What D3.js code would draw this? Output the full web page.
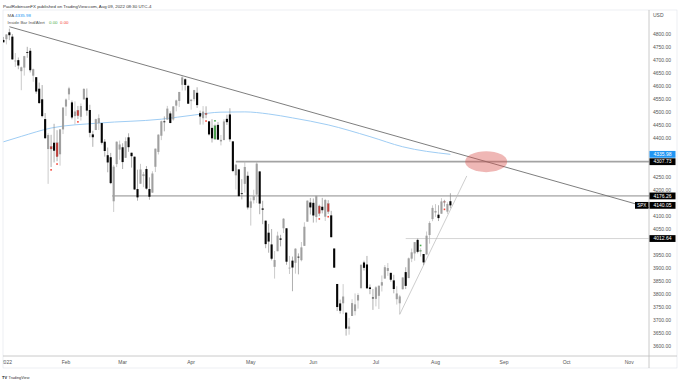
<!DOCTYPE html>
<html lang="en">
<head>
<meta charset="UTF-8">
<title>SPX daily 2022</title>
<script src="https://d3js.org/d3.v7.min.js"></script>
<style>
  body { margin: 0; background: #fff; }
  svg { display: block; font-family: "Liberation Sans", Arial, sans-serif; }
</style>
</head>
<body>
<div id="chart"></div>
<script>
// daily bars: date, open, high, low, close (first bar is index -1)
const bars = [
  ["2021-12-31",4775.21,4786.83,4765.75,4766.18],
  ["2022-01-03",4778.14,4796.64,4758.17,4796.56],
  ["2022-01-04",4804.51,4818.62,4774.27,4793.54],
  ["2022-01-05",4787.99,4797.70,4699.44,4700.58],
  ["2022-01-06",4693.39,4725.01,4671.26,4696.05],
  ["2022-01-07",4697.66,4707.95,4662.74,4677.03],
  ["2022-01-10",4655.34,4673.02,4582.24,4670.29],
  ["2022-01-11",4669.14,4714.13,4638.27,4713.07],
  ["2022-01-12",4728.59,4748.83,4706.71,4726.35],
  ["2022-01-13",4733.56,4744.13,4650.29,4659.03],
  ["2022-01-14",4637.99,4665.13,4614.75,4662.85],
  ["2022-01-18",4632.24,4632.24,4568.70,4577.11],
  ["2022-01-19",4588.03,4611.55,4530.20,4532.76],
  ["2022-01-20",4547.35,4602.11,4477.95,4482.73],
  ["2022-01-21",4471.38,4494.52,4395.34,4397.94],
  ["2022-01-24",4356.32,4417.35,4222.62,4410.13],
  ["2022-01-25",4366.64,4411.01,4287.11,4356.45],
  ["2022-01-26",4380.58,4453.23,4304.80,4349.93],
  ["2022-01-27",4380.58,4428.74,4309.50,4326.51],
  ["2022-01-28",4336.19,4432.72,4292.46,4431.85],
  ["2022-01-31",4431.79,4516.89,4414.02,4515.55],
  ["2022-02-01",4519.57,4550.49,4483.53,4546.54],
  ["2022-02-02",4566.39,4595.31,4544.32,4589.38],
  ["2022-02-03",4535.41,4542.88,4470.39,4477.44],
  ["2022-02-04",4482.79,4539.66,4451.50,4500.53],
  ["2022-02-07",4505.75,4521.86,4471.47,4483.87],
  ["2022-02-08",4480.02,4531.32,4465.40,4521.54],
  ["2022-02-09",4547.00,4590.03,4547.00,4587.18],
  ["2022-02-10",4553.24,4588.92,4484.31,4504.08],
  ["2022-02-11",4506.27,4526.33,4401.41,4418.64],
  ["2022-02-14",4412.61,4426.22,4364.84,4401.67],
  ["2022-02-15",4429.28,4472.77,4429.28,4471.07],
  ["2022-02-16",4455.75,4489.55,4429.68,4475.01],
  ["2022-02-17",4456.06,4456.06,4373.81,4380.26],
  ["2022-02-18",4384.57,4394.60,4327.22,4348.87],
  ["2022-02-22",4332.74,4362.12,4267.11,4304.76],
  ["2022-02-23",4324.93,4341.51,4221.51,4225.50],
  ["2022-02-24",4155.77,4294.73,4114.65,4288.70],
  ["2022-02-25",4298.38,4385.34,4286.83,4384.65],
  ["2022-02-28",4354.17,4388.84,4315.12,4373.94],
  ["2022-03-01",4363.14,4378.45,4279.54,4306.26],
  ["2022-03-02",4322.56,4401.48,4322.56,4386.54],
  ["2022-03-03",4401.31,4416.78,4345.56,4363.49],
  ["2022-03-04",4342.12,4342.12,4284.98,4328.87],
  ["2022-03-07",4327.01,4327.01,4199.85,4201.09],
  ["2022-03-08",4202.66,4276.94,4157.87,4170.70],
  ["2022-03-09",4223.10,4299.40,4223.10,4277.88],
  ["2022-03-10",4252.55,4268.28,4209.80,4259.52],
  ["2022-03-11",4279.50,4291.01,4200.49,4204.31],
  ["2022-03-14",4202.75,4247.57,4161.72,4173.11],
  ["2022-03-15",4188.82,4271.05,4187.90,4262.45],
  ["2022-03-16",4288.14,4357.86,4267.92,4357.86],
  ["2022-03-17",4345.11,4412.67,4335.65,4411.67],
  ["2022-03-18",4407.34,4465.40,4390.57,4463.12],
  ["2022-03-21",4462.40,4481.75,4424.30,4461.18],
  ["2022-03-22",4469.10,4522.00,4469.10,4511.61],
  ["2022-03-23",4493.10,4501.07,4455.81,4456.24],
  ["2022-03-24",4469.98,4520.58,4465.17,4520.16],
  ["2022-03-25",4522.91,4546.03,4501.07,4543.06],
  ["2022-03-28",4541.09,4575.65,4517.69,4575.52],
  ["2022-03-29",4602.86,4637.30,4581.18,4631.60],
  ["2022-03-30",4624.20,4627.77,4581.32,4602.45],
  ["2022-03-31",4599.02,4603.07,4530.41,4530.41],
  ["2022-04-01",4540.32,4548.70,4507.57,4545.86],
  ["2022-04-04",4547.97,4583.50,4539.21,4582.64],
  ["2022-04-05",4572.45,4593.45,4514.17,4525.12],
  ["2022-04-06",4494.17,4503.94,4450.04,4481.15],
  ["2022-04-07",4474.65,4521.16,4450.30,4500.21],
  ["2022-04-08",4494.15,4520.41,4474.60,4488.28],
  ["2022-04-11",4462.64,4464.35,4408.38,4412.53],
  ["2022-04-12",4437.59,4471.00,4381.34,4397.45],
  ["2022-04-13",4394.30,4453.92,4392.70,4446.59],
  ["2022-04-14",4449.12,4460.46,4390.77,4392.59],
  ["2022-04-18",4385.63,4410.31,4370.30,4391.69],
  ["2022-04-19",4390.63,4471.03,4390.63,4462.21],
  ["2022-04-20",4472.26,4488.29,4448.76,4459.45],
  ["2022-04-21",4489.17,4512.94,4384.47,4393.66],
  ["2022-04-22",4385.83,4385.83,4267.62,4271.78],
  ["2022-04-25",4255.34,4299.02,4200.82,4296.12],
  ["2022-04-26",4278.14,4278.14,4175.04,4175.20],
  ["2022-04-27",4186.52,4240.71,4162.90,4183.96],
  ["2022-04-28",4222.58,4308.45,4188.63,4287.50],
  ["2022-04-29",4253.75,4269.68,4124.28,4131.93],
  ["2022-05-02",4130.61,4169.81,4062.51,4155.38],
  ["2022-05-03",4159.78,4200.10,4147.08,4175.48],
  ["2022-05-04",4181.18,4307.66,4148.91,4300.17],
  ["2022-05-05",4270.43,4270.43,4106.01,4146.87],
  ["2022-05-06",4128.17,4157.69,4067.91,4123.34],
  ["2022-05-09",4081.27,4081.27,3975.48,3991.24],
  ["2022-05-10",4035.18,4068.82,3958.17,4001.05],
  ["2022-05-11",3990.08,4049.09,3928.82,3935.18],
  ["2022-05-12",3903.95,3964.80,3858.87,3930.08],
  ["2022-05-13",3963.90,4038.88,3963.90,4023.89],
  ["2022-05-16",4013.02,4026.97,3982.68,4008.01],
  ["2022-05-17",4052.00,4090.72,4033.93,4088.85],
  ["2022-05-18",4051.98,4051.98,3911.91,3923.68],
  ["2022-05-19",3899.00,3945.96,3876.58,3900.79],
  ["2022-05-20",3927.76,3943.42,3810.32,3901.36],
  ["2022-05-23",3919.42,3975.45,3877.97,3973.75],
  ["2022-05-24",3942.94,3955.68,3875.13,3941.48],
  ["2022-05-25",3929.59,3999.33,3925.03,3978.73],
  ["2022-05-26",3984.60,4075.14,3984.60,4057.84],
  ["2022-05-27",4077.43,4158.49,4077.43,4158.24],
  ["2022-05-31",4151.09,4168.34,4104.88,4132.15],
  ["2022-06-01",4149.78,4166.54,4073.85,4101.23],
  ["2022-06-02",4095.41,4177.51,4074.37,4176.82],
  ["2022-06-03",4137.57,4142.67,4098.67,4108.54],
  ["2022-06-06",4134.72,4168.78,4109.18,4121.43],
  ["2022-06-07",4096.47,4164.86,4080.19,4160.68],
  ["2022-06-08",4147.12,4160.14,4107.20,4115.77],
  ["2022-06-09",4101.65,4119.10,4017.17,4017.82],
  ["2022-06-10",3974.39,3974.39,3900.16,3900.86],
  ["2022-06-13",3838.15,3838.15,3734.30,3749.63],
  ["2022-06-14",3763.52,3778.18,3724.56,3735.48],
  ["2022-06-15",3764.05,3837.56,3722.30,3789.99],
  ["2022-06-16",3728.18,3728.18,3639.77,3666.77],
  ["2022-06-17",3665.90,3707.71,3643.41,3674.84],
  ["2022-06-21",3715.31,3779.65,3715.31,3764.79],
  ["2022-06-22",3733.89,3801.79,3717.69,3759.89],
  ["2022-06-23",3774.71,3802.58,3743.52,3795.73],
  ["2022-06-24",3821.75,3913.65,3821.75,3911.74],
  ["2022-06-27",3920.76,3927.72,3889.66,3900.11],
  ["2022-06-28",3913.00,3945.86,3820.14,3821.55],
  ["2022-06-29",3825.09,3836.50,3799.02,3818.83],
  ["2022-06-30",3785.99,3818.99,3738.67,3785.38],
  ["2022-07-01",3781.00,3829.82,3752.10,3825.33],
  ["2022-07-05",3792.61,3832.19,3742.06,3831.39],
  ["2022-07-06",3831.98,3870.91,3809.37,3845.08],
  ["2022-07-07",3858.85,3910.63,3858.85,3902.62],
  ["2022-07-08",3888.26,3918.50,3869.34,3899.38],
  ["2022-07-11",3880.94,3880.94,3847.22,3854.43],
  ["2022-07-12",3851.95,3873.41,3802.36,3818.80],
  ["2022-07-13",3779.67,3829.44,3759.07,3801.78],
  ["2022-07-14",3763.99,3796.41,3721.56,3790.38],
  ["2022-07-15",3818.00,3863.62,3817.18,3863.16],
  ["2022-07-18",3883.79,3902.44,3818.63,3830.85],
  ["2022-07-19",3860.73,3939.81,3860.73,3936.69],
  ["2022-07-20",3935.32,3974.13,3922.03,3959.90],
  ["2022-07-21",3955.47,3999.29,3927.64,3998.95],
  ["2022-07-22",4007.51,4012.44,3955.77,3961.63],
  ["2022-07-25",3965.72,3975.30,3943.46,3966.84],
  ["2022-07-26",3953.22,3953.22,3910.74,3921.05],
  ["2022-07-27",3951.43,4039.56,3951.43,4023.61],
  ["2022-07-28",4026.13,4078.95,3992.97,4072.43],
  ["2022-07-29",4087.33,4140.15,4079.22,4130.29],
  ["2022-08-01",4112.38,4144.95,4096.02,4118.63],
  ["2022-08-02",4104.21,4140.47,4079.81,4091.19],
  ["2022-08-03",4107.96,4167.66,4107.96,4155.17],
  ["2022-08-04",4154.85,4161.29,4135.42,4151.94],
  ["2022-08-05",4115.87,4151.58,4107.31,4145.19],
  ["2022-08-08",4155.93,4186.62,4128.97,4140.05]
];

// moving average: [bar index, value]
const maPoints = [
  [-1,4384],[5,4405],[15,4437],[31,4456],[52,4471],[63,4487],[72,4498],
  [80,4499],[88,4491],[96,4476],[108,4449],[122,4404],[133,4365],[149,4335.98]
];

// inside bar indicator hits
const redInside = ["2022-01-25","2022-01-27","2022-02-07","2022-04-08","2022-06-03","2022-06-08","2022-08-04"];
const greenInside = ["2022-04-13","2022-07-25"];

// drawn levels: price and first bar index
const levelPrices = [4307.73, 4176.26, 4012.64];
const levelStarts = [77, 35.5, 134];
const levelKinds = ["thick", "dark", "light"];

// trend lines [bar index, price]
const downTrend = [[1, 4826], [216, 4130]];
const upTrend = [[132, 3721.56], [154.5, 4253]];
const zone = [161, 4308];

const priceTicks = d3.range(3600, 4801, 50);
const monthLabels = ["2022","Feb","Mar","Apr","May","Jun","Jul","Aug","Sep","Oct","Nov"];
const monthIdx = [0, 20, 39, 62, 82, 103, 124, 144, 167, 188, 209];

const W = 680, H = 380;
const plot = { left: 3, top: 10, right: 649, bottom: 356 };

const data = bars.map((b, i) => ({ date: b[0], i: i - 1, o: b[1], h: b[2], l: b[3], c: b[4] }));
const last = data[data.length - 1];

const x = d3.scaleLinear().domain([0, 209]).range([6.4, 629.2]);
const y = d3.scaleLinear().domain([3600, 4800]).range([346, 33.5]);

const svg = d3.select("#chart").append("svg").attr("width", W).attr("height", H);
svg.append("rect").attr("width", W).attr("height", H).attr("fill", "#fff");

// header
svg.append("text").attr("x", 3).attr("y", 7.5).attr("font-size", 4.4).attr("fill", "#333")
  .text("PaulRobinsonFX published on TradingView.com, Aug 09, 2022 08:30 UTC-4");

// frame
svg.append("rect").attr("x", plot.left).attr("y", plot.top)
  .attr("width", 677 - plot.left).attr("height", 368 - plot.top)
  .attr("fill", "none").attr("stroke", "#e0e3eb").attr("stroke-width", 0.6);
svg.append("line").attr("x1", plot.right).attr("x2", plot.right).attr("y1", plot.top).attr("y2", 368)
  .attr("stroke", "#bdbdbd").attr("stroke-width", 0.8);
svg.append("line").attr("x1", plot.left).attr("x2", 677).attr("y1", plot.bottom).attr("y2", plot.bottom)
  .attr("stroke", "#bdbdbd").attr("stroke-width", 0.8);

svg.append("clipPath").attr("id", "clip").append("rect")
  .attr("x", plot.left).attr("y", plot.top)
  .attr("width", plot.right - plot.left).attr("height", plot.bottom - plot.top);

const g = svg.append("g").attr("clip-path", "url(#clip)");

// moving average
g.append("path").datum(maPoints)
  .attr("d", d3.line().x(d => x(d[0])).y(d => y(d[1])).curve(d3.curveMonotoneX))
  .attr("fill", "none").attr("stroke", "#9fcdf4").attr("stroke-width", 1);

// horizontal levels
const levelStyle = {
  thick: { stroke: "#a3a3a3", width: 1.8 },
  dark: { stroke: "#6e6e6e", width: 0.8 },
  light: { stroke: "#c4c4c4", width: 0.7 }
};
levelPrices.forEach((p, k) => {
  const st = levelStyle[levelKinds[k]];
  g.append("line").attr("x1", x(levelStarts[k])).attr("x2", plot.right)
    .attr("y1", y(p)).attr("y2", y(p))
    .attr("stroke", st.stroke).attr("stroke-width", st.width);
});

// trend lines
g.append("line").attr("x1", x(downTrend[0][0])).attr("y1", y(downTrend[0][1]))
  .attr("x2", x(downTrend[1][0])).attr("y2", y(downTrend[1][1]))
  .attr("stroke", "#6f6f6f").attr("stroke-width", 0.9);
g.append("line").attr("x1", x(upTrend[0][0])).attr("y1", y(upTrend[0][1]))
  .attr("x2", x(upTrend[1][0])).attr("y2", y(upTrend[1][1]))
  .attr("stroke", "#b8b8b8").attr("stroke-width", 0.7);

// candles
const isRed = d => redInside.includes(d.date);
const isGreen = d => greenInside.includes(d.date);
const bodyColor = d => isRed(d) ? "#c23b36" : isGreen(d) ? "#43a047" : (d.c >= d.o ? "#a0a0a0" : "#050505");
const wickColor = d => d.c >= d.o ? "#b5b5b5" : "#8c8c8c";
const bw = 2.1;

g.selectAll("line.wick").data(data).join("line").attr("class", "wick")
  .attr("x1", d => x(d.i)).attr("x2", d => x(d.i))
  .attr("y1", d => y(d.h)).attr("y2", d => y(d.l))
  .attr("stroke", wickColor).attr("stroke-width", 0.7);

g.selectAll("rect.body").data(data).join("rect").attr("class", "body")
  .attr("x", d => x(d.i) - bw / 2)
  .attr("y", d => y(Math.max(d.o, d.c)))
  .attr("width", bw)
  .attr("height", d => Math.max(0.8, Math.abs(y(d.o) - y(d.c))))
  .attr("fill", bodyColor)
  .attr("stroke", d => (isRed(d) || isGreen(d)) ? "#9a9a9a" : "none")
  .attr("stroke-width", 0.3);

// indicator dots
g.selectAll("rect.rdot").data(data.filter(isRed)).join("rect").attr("class", "rdot")
  .attr("x", d => x(d.i) - 0.8).attr("y", d => y(d.l) + 2)
  .attr("width", 1.6).attr("height", 1.6).attr("fill", "#f44336");
g.selectAll("rect.gdot").data(data.filter(isGreen)).join("rect").attr("class", "gdot")
  .attr("x", d => x(d.i) - 0.8).attr("y", d => y(d.h) - 3.6)
  .attr("width", 1.6).attr("height", 1.6).attr("fill", "#4caf50");

// highlighted zone
g.append("ellipse").attr("cx", x(zone[0])).attr("cy", y(zone[1]))
  .attr("rx", 21).attr("ry", 10.5)
  .attr("fill", "#d9534f").attr("fill-opacity", 0.42);

// legend
const leg = svg.append("g").attr("font-size", 4.4);
leg.append("text").attr("x", 7.5).attr("y", 16.5).attr("fill", "#555").text("MA");
leg.append("text").attr("x", 15).attr("y", 16.5).attr("fill", "#2196f3").text(d3.format(".2f")(maPoints[maPoints.length - 1][1]));
leg.append("text").attr("x", 7.5).attr("y", 23.5).attr("fill", "#555").text("Inside Bar Ind/Alert");
leg.append("text").attr("x", 49).attr("y", 23.5).attr("fill", "#4caf50").text("0.00");
leg.append("text").attr("x", 60).attr("y", 23.5).attr("fill", "#f44336").text("0.00");

// price badges
const badges = [
  { v: maPoints[maPoints.length - 1][1], fill: "#2196f3" },
  { v: levelPrices[0], fill: "#000" },
  { v: levelPrices[1], fill: "#000" },
  { v: last.c, fill: "#000" },
  { v: levelPrices[2], fill: "#000" }
];

// price axis (labels hidden behind a badge are left out)
const shownTicks = priceTicks.filter(t => badges.every(b => Math.abs(y(t) - y(b.v)) > 5.8));
const yAxis = svg.append("g").attr("transform", `translate(${plot.right + 4},0)`)
  .call(d3.axisRight(y).tickValues(shownTicks).tickSize(0).tickPadding(0).tickFormat(d3.format(".2f")));
yAxis.select(".domain").remove();
yAxis.selectAll("text").attr("font-size", 5).attr("fill", "#555").attr("font-family", "Liberation Sans, Arial, sans-serif");
svg.append("text").attr("x", plot.right + 4).attr("y", 17).attr("font-size", 5).attr("fill", "#555").text("USD");

// time axis
svg.append("clipPath").attr("id", "clip-t").append("rect")
  .attr("x", plot.left).attr("y", plot.bottom).attr("width", plot.right - plot.left).attr("height", 12);
const tg = svg.append("g").attr("clip-path", "url(#clip-t)");
tg.selectAll("text").data(monthLabels).join("text")
  .attr("x", (d, k) => x(monthIdx[k])).attr("y", 363.5)
  .attr("text-anchor", "middle").attr("font-size", 5).attr("fill", "#555")
  .text(d => d);

const bg = svg.append("g");
badges.forEach(b => {
  bg.append("rect").attr("x", plot.right + 0.5).attr("y", y(b.v) - 3.4)
    .attr("width", 26).attr("height", 6.8).attr("fill", b.fill);
  bg.append("text").attr("x", plot.right + 13.5).attr("y", y(b.v) + 1.8)
    .attr("text-anchor", "middle").attr("font-size", 5).attr("fill", "#fff")
    .text(d3.format(".2f")(b.v));
});
bg.append("rect").attr("x", plot.right - 14).attr("y", y(last.c) - 3.4)
  .attr("width", 13.5).attr("height", 6.8).attr("fill", "#000");
bg.append("text").attr("x", plot.right - 7.2).attr("y", y(last.c) + 1.8)
  .attr("text-anchor", "middle").attr("font-size", 4.6).attr("fill", "#fff").text("SPX");

// footer logo
svg.append("text").attr("x", 2).attr("y", 378.5).attr("font-size", 4).attr("font-weight", "bold")
  .attr("fill", "#131722").text("TV");
svg.append("text").attr("x", 8.5).attr("y", 378.5).attr("font-size", 3.8).attr("fill", "#333")
  .text("TradingView");
</script>
</body>
</html>
